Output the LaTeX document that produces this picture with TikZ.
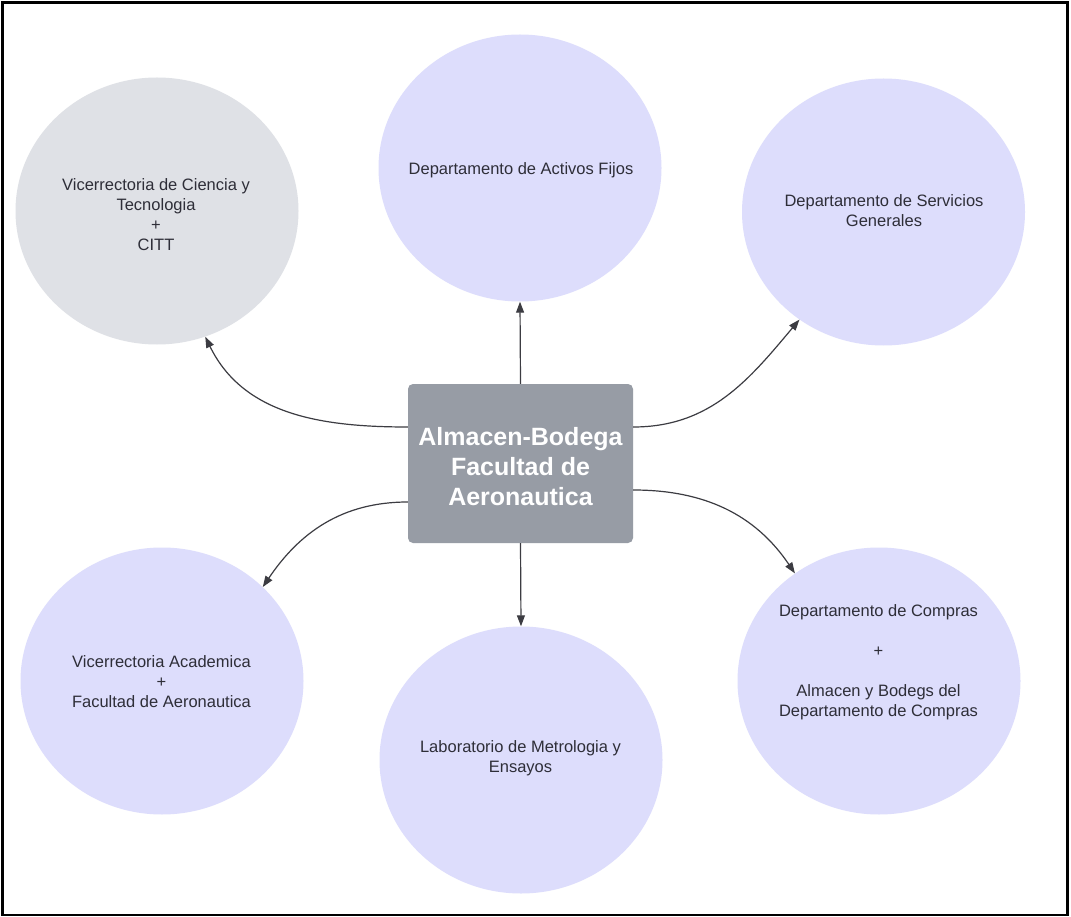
\documentclass[tikz,border=0pt]{standalone}
\usepackage{fontspec}
\setmainfont{Liberation Sans}
\usetikzlibrary{shapes.geometric,arrows.meta}
\definecolor{bubble}{HTML}{DDDDFC}
\definecolor{greybubble}{HTML}{DFE1E6}
\definecolor{hubfill}{HTML}{979CA5}
\definecolor{inktext}{HTML}{2E2E38}
\definecolor{wire}{HTML}{3C3C42}
\tikzset{
  area/.style={ellipse, fill=bubble, draw=none, inner sep=0pt,
               minimum width=283pt, minimum height=267pt},
  grey area/.style={area, fill=greybubble},
  caption/.style={align=center, text=inktext, inner sep=0pt,
                  font=\fontsize{16.5}{20}\selectfont},
  hub/.style={rectangle, rounded corners=5pt, fill=hubfill, draw=none,
              minimum width=225pt, minimum height=159pt},
  hubtext/.style={align=center, text=white, inner sep=0pt,
                  font=\fontsize{25}{30}\selectfont\bfseries},
  link/.style={draw=wire, line width=1.2pt,
               -{Triangle[length=11pt,width=8pt]}},
}
\begin{document}
\begin{tikzpicture}[x=1pt,y=-1pt]
  % page and outer frame
  \fill[white] (0,0) rectangle (1071,917);
  \useasboundingbox (0,0) rectangle (1071,917);
  \draw[black, line width=2.6pt] (2.5,2.5) rectangle (1067.5,915);

  % surrounding areas
  \node[grey area] (tl) at (157,211) {};
  \node[area] (tc) at (520,168) {};
  \node[area] (tr) at (883.5,212) {};
  \node[area] (bl) at (162,681) {};
  \node[area] (bc) at (521,760) {};
  \node[area] (br) at (879,681) {};

  \node[caption] (tltext) at (156,215) {Vicerrectoria de Ciencia y\\Tecnologia\\+\\CITT};
  \node[caption] (tctext) at (521,170) {Departamento de Activos Fijos};
  \node[caption] (trtext) at (884,211) {Departamento de Servicios\\Generales};
  \node[caption] (bltext) at (161.5,682) {Vicerrectoria Academica\\+\\Facultad de Aeronautica};
  \node[caption] (bctext) at (520.5,758) {Laboratorio de Metrologia y\\Ensayos};
  \node[caption] (brtext) at (878.5,662.5) {Departamento de Compras\\[20pt]+\\[20pt]Almacen y Bodegs del\\Departamento de Compras};

  % central store
  \node[hub] (hub) at (520.5,463.5) {};
  \node[hubtext] (hubtext) at (520.5,467) {Almacen-Bodega\\Facultad de\\Aeronautica};

  % exits from the central store
  \coordinate (hwu) at ([yshift=36.5pt]hub.west);
  \coordinate (hwd) at ([yshift=-38.5pt]hub.west);
  \coordinate (heu) at ([yshift=36.5pt]hub.east);
  \coordinate (hed) at ([yshift=-26.5pt]hub.east);

  % connectors
  \draw[link] (hub.north) -- (tc.south);
  \draw[link] (hub.south) -- (bc.north);
  \draw[link] (hwu) to[out=180, in=-64] (tl.-69);
  \draw[link] (hwd) to[out=180, in=56] (bl.43);
  \draw[link] (heu) to[out=0, in=-130] (tr.-128);
  \draw[link] (hed) to[out=0, in=124] (br.128);
\end{tikzpicture}
\end{document}
